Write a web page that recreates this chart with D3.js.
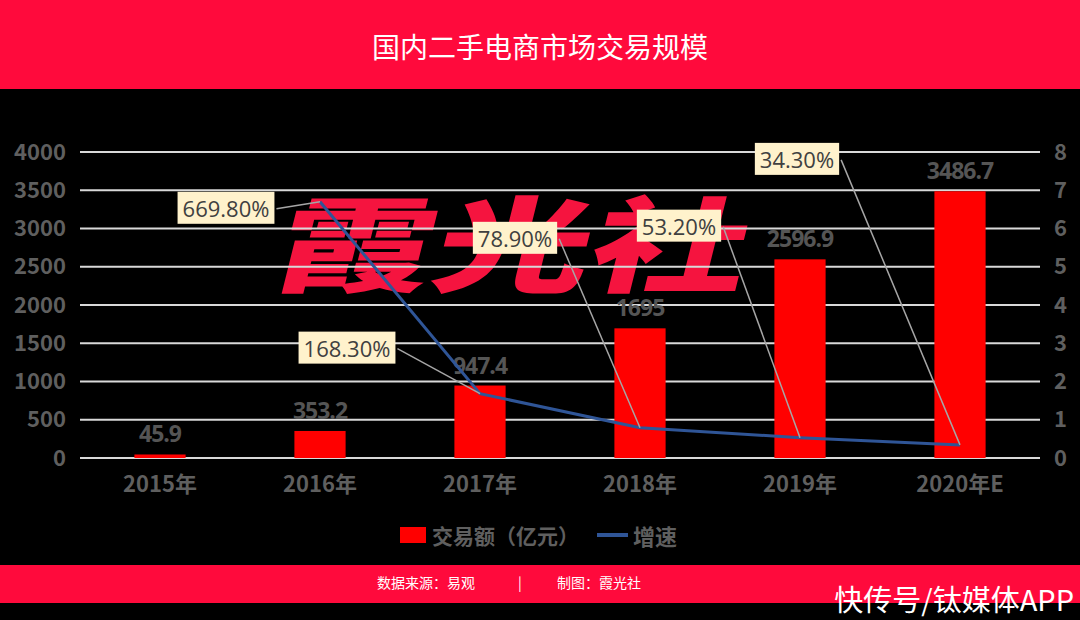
<!DOCTYPE html>
<html>
<head>
<meta charset="utf-8">
<script src="https://cdn.jsdelivr.net/npm/d3@7"></script>
<style>
  body { margin: 0; background: #000; }
  svg { display: block; }
  text { font-family: "Noto Sans CJK SC", "Open Sans", sans-serif; }
</style>
</head>
<body>
<svg width="1080" height="620"></svg>
<script>
var categories = ["2015年", "2016年", "2017年", "2018年", "2019年", "2020年E"];
var amount = [45.9, 353.2, 947.4, 1695, 2596.9, 3486.7];
var growth = [null, 6.698, 1.683, 0.789, 0.532, 0.343];
var growthLabels = ["", "669.80%", "168.30%", "78.90%", "53.20%", "34.30%"];
var leftTicks = [0, 500, 1000, 1500, 2000, 2500, 3000, 3500, 4000];
var rightTicks = [0, 1, 2, 3, 4, 5, 6, 7, 8];

// callout box offsets from the line point (px)
var calloutOffset = [null, [-94, 6], [-133, -46], [-125, -190], [-121, -212], [-163, -286]];

var svg = d3.select("svg"),
    W = 1080, H = 620,
    margin = {top: 152, right: 40, bottom: 162, left: 80},
    width = W - margin.left - margin.right,
    height = H - margin.top - margin.bottom;

// header / footer bands
svg.append("rect").attr("x", 0).attr("y", 0).attr("width", W).attr("height", 89).attr("fill", "#ff0a3c");
svg.append("text")
    .attr("x", W / 2).attr("y", 46)
    .attr("text-anchor", "middle").attr("dominant-baseline", "central")
    .attr("fill", "#fff").attr("font-size", 28)
    .text("国内二手电商市场交易规模");

svg.append("rect").attr("x", 0).attr("y", 565).attr("width", W).attr("height", 38).attr("fill", "#ff0a3c");
svg.append("text").attr("x", 426).attr("y", 588).attr("text-anchor", "middle")
    .attr("fill", "#fff").attr("font-size", 14).text("数据来源：易观");
svg.append("text").attr("x", 520).attr("y", 588).attr("text-anchor", "middle")
    .attr("fill", "#fff").attr("font-size", 14).text("|");
svg.append("text").attr("x", 599).attr("y", 588).attr("text-anchor", "middle")
    .attr("fill", "#fff").attr("font-size", 14).text("制图：霞光社");

var g = svg.append("g").attr("transform", "translate(" + margin.left + "," + margin.top + ")");

var x = d3.scaleBand().domain(categories).range([0, width]).paddingInner(0.68).paddingOuter(0.34);
var xc = function(d) { return x(d) + x.bandwidth() / 2; };
var y = d3.scaleLinear().domain([0, 4000]).range([height, 0]);
var y2 = d3.scaleLinear().domain([0, 8]).range([height, 0]);

// watermark
g.append("text")
    .attr("transform", "translate(" + (xc("2017年") + 37) + "," + (y(2870)) + ") skewX(-14) scale(1.33,0.88)")
    .attr("text-anchor", "middle").attr("dominant-baseline", "central")
    .attr("fill", "#f5143f").attr("font-size", 118).attr("font-weight", 900)
    .text("霞光社");

// grid
g.selectAll("line.grid")
  .data(leftTicks)
  .enter().append("line")
    .attr("class", "grid")
    .attr("x1", 0).attr("x2", width)
    .attr("y1", function(d) { return y(d); })
    .attr("y2", function(d) { return y(d); })
    .attr("stroke", "#d9d9d9").attr("stroke-width", 2);

// axes (labels only)
var yAxis = g.append("g")
    .call(d3.axisLeft(y).tickValues(leftTicks).tickFormat(d3.format("d")).tickSize(0).tickPadding(14));
var y2Axis = g.append("g").attr("transform", "translate(" + width + ",0)")
    .call(d3.axisRight(y2).tickValues(rightTicks).tickSize(0).tickPadding(14));
var xAxis = g.append("g").attr("transform", "translate(0," + height + ")")
    .call(d3.axisBottom(x).tickSize(0).tickPadding(18));
[yAxis, y2Axis, xAxis].forEach(function(a) {
  a.select(".domain").remove();
  a.selectAll("text")
    .attr("fill", "#5f5f5f").attr("font-size", 22).attr("font-weight", 700)
    .style("font-family", "'Noto Sans CJK SC', sans-serif");
});

// bars
g.selectAll("rect.bar")
  .data(amount)
  .enter().append("rect")
    .attr("class", "bar")
    .attr("x", function(d, i) { return x(categories[i]); })
    .attr("y", function(d) { return y(d); })
    .attr("width", x.bandwidth())
    .attr("height", function(d) { return height - y(d); })
    .attr("fill", "#ff0000");

g.selectAll("text.val")
  .data(amount)
  .enter().append("text")
    .attr("class", "val")
    .attr("x", function(d, i) { return xc(categories[i]); })
    .attr("y", function(d) { return y(d) - 12; })
    .attr("text-anchor", "middle")
    .attr("fill", "#555").attr("font-size", 23).attr("font-weight", 700)
    .style("font-family", "'Open Sans', sans-serif")
    .style("letter-spacing", "-1px")
    .text(function(d) { return d; });

// growth line
var pts = growth.map(function(d, i) { return {c: categories[i], v: d, label: growthLabels[i], off: calloutOffset[i]}; })
  .filter(function(d) { return d.v != null; });

var line = d3.line()
  .x(function(d) { return xc(d.c); })
  .y(function(d) { return y2(d.v); });

// callouts
var call = g.selectAll("g.callout")
  .data(pts)
  .enter().append("g")
    .attr("class", "callout");

call.each(function(d) {
  var el = d3.select(this);
  var px = xc(d.c), py = y2(d.v);
  var cx = px + d.off[0], cy = py + d.off[1];
  var bg = el.append("rect").attr("fill", "#fff2cc");
  var t = el.append("text")
      .attr("x", cx).attr("y", cy)
      .attr("text-anchor", "middle").attr("dominant-baseline", "central")
      .attr("fill", "#404040").attr("font-size", 22)
      .style("font-family", "'Open Sans', sans-serif")
      .text(d.label);
  var w = t.node().getComputedTextLength() + 10, h = 32;
  bg.attr("x", cx - w / 2).attr("y", cy - h / 2).attr("width", w).attr("height", h);
  el.insert("line", "rect")
      .attr("x1", cx + w / 2 + 2).attr("y1", cy + 1)
      .attr("x2", px).attr("y2", py)
      .attr("stroke", "#a6a6a6").attr("stroke-width", 1.5);
});

g.append("path")
    .datum(pts)
    .attr("d", line)
    .attr("fill", "none")
    .attr("stroke", "#2f5597")
    .attr("stroke-width", 3);

// bring callout boxes on top of the line
call.raise();

// legend
var lg = svg.append("g").attr("transform", "translate(400,535)");
lg.append("rect").attr("x", 0).attr("y", -8).attr("width", 26).attr("height", 16).attr("fill", "#ff0000");
lg.append("text").attr("x", 32).attr("y", 0).attr("dominant-baseline", "central")
    .attr("fill", "#5f5f5f").attr("font-size", 21).attr("font-weight", 700)
    .text("交易额（亿元）");
lg.append("line").attr("x1", 197).attr("x2", 228).attr("y1", 0).attr("y2", 0)
    .attr("stroke", "#2f5597").attr("stroke-width", 4);
lg.append("text").attr("x", 233).attr("y", 0).attr("dominant-baseline", "central")
    .attr("fill", "#5f5f5f").attr("font-size", 22).attr("font-weight", 700)
    .text("增速");

// corner watermark
svg.append("text").attr("x", 1074).attr("y", 598)
    .attr("text-anchor", "end").attr("dominant-baseline", "central")
    .attr("fill", "#fff").attr("font-size", 29)
    .text("快传号/钛媒体APP");
</script>
</body>
</html>
